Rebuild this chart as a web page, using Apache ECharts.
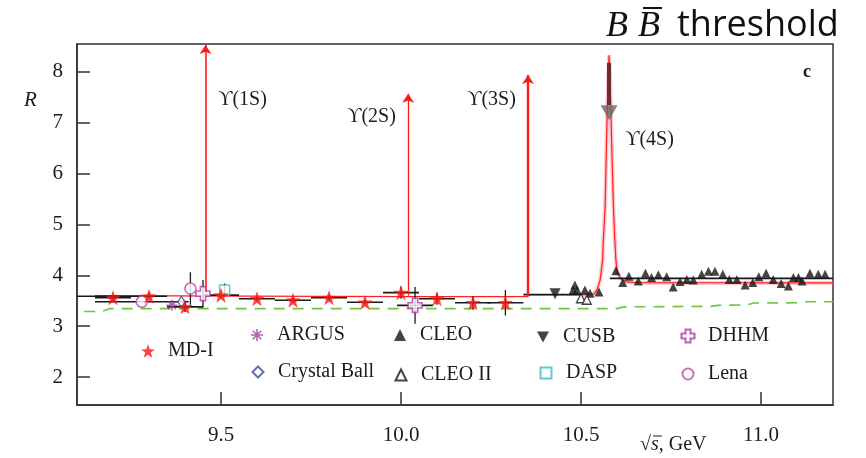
<!DOCTYPE html>
<html>
<head>
<meta charset="utf-8">
<script src="https://cdn.jsdelivr.net/npm/echarts@6/dist/echarts.min.js"></script>
<style>
  html, body { margin: 0; padding: 0; background: #fff; }
  #chart { width: 866px; height: 458px; }
</style>
</head>
<body>
<div id="chart"></div>
<script>
// axis ranges and ticks
var xMin = 9.1, xMax = 11.2, yMin = 1.45, yMax = 8.55;
var xTicks = [9.5, 10.0, 10.5, 11.0];
var yTicks = [2, 3, 4, 5, 6, 7, 8];

// MD-I (stars): energy, R, half bin width, R error
var mdiX = [9.2, 9.3, 9.4, 9.5, 9.6, 9.7, 9.8, 9.9, 10.0, 10.1, 10.2, 10.29];
var mdiR = [3.56, 3.59, 3.38, 3.61, 3.54, 3.51, 3.56, 3.47, 3.66, 3.54, 3.46, 3.46];
var mdiBin = [0.05, 0.05, 0.05, 0.05, 0.05, 0.05, 0.05, 0.05, 0.05, 0.05, 0.05, 0.05];
var mdiErr = [0.06, 0.06, 0.1, 0.06, 0.05, 0.05, 0.05, 0.05, 0.12, 0.12, 0.13, 0.25];

// other experiments
var argusX = [9.364], argusR = [3.41];
var cbX = [9.39], cbR = [3.48];
var cleoX = [10.478, 10.483, 10.489, 10.511, 10.525, 10.55,
  10.597, 10.616, 10.633, 10.659, 10.679, 10.696, 10.715, 10.738, 10.756, 10.775,
  10.794, 10.812, 10.835, 10.854, 10.872, 10.894, 10.912, 10.933, 10.956, 10.977,
  10.994, 11.014, 11.034, 11.056, 11.076, 11.09, 11.104, 11.114, 11.136, 11.159, 11.178];
var cleoR = [3.71, 3.81, 3.71, 3.71, 3.65, 3.67,
  4.09, 3.86, 3.98, 3.89, 4.04, 3.96, 4.01, 3.97, 3.77, 3.88,
  3.92, 3.91, 4.02, 4.08, 4.08, 4.02, 3.92, 3.92, 3.81, 3.86,
  3.97, 4.04, 3.92, 3.84, 3.79, 3.96, 3.96, 3.89, 4.04, 4.02, 4.02];
var cleo2X = [10.50, 10.516], cleo2R = [3.55, 3.52];
var cusbX = [10.428], cusbR = [3.64];
var daspX = [9.51], daspR = [3.71], daspErr = [0.13];
var dhhmX = [9.45, 10.039], dhhmR = [3.64, 3.41], dhhmBin = [0, 0.05], dhhmErr = [0.27, 0.36];
var lenaX = [9.28, 9.415], lenaR = [3.48, 3.74], lenaBin = [0.13, 0], lenaErr = [0, 0.32];

// wide-bin black segments: from, to, R
var binLo = [9.10, 10.34, 10.58];
var binHi = [9.25, 10.50, 11.20];
var binR = [3.59, 3.62, 3.94];

// theory curve (red) and Y(4S) shape
var theoryX = [9.15, 10.0, 10.35, 10.36, 10.50, 10.535, 10.544, 10.553, 10.560, 10.562, 10.567,
  10.571, 10.575, 10.578, 10.581, 10.585, 10.590, 10.594, 10.597, 10.601, 10.613, 10.627, 10.65, 11.2];
var theoryR = [3.60, 3.58, 3.58, 3.62, 3.62, 3.63, 3.71, 3.90, 4.30, 4.69, 5.35,
  6.66, 7.8, 8.33, 7.8, 6.66, 5.35, 4.69, 4.30, 4.04, 3.92, 3.87, 3.855, 3.85];

// narrow resonances: mass, peak drawn
var upsX = [9.457, 10.02, 10.353];
var upsTop = [8.53, 7.57, 7.94];
var upsBase = 3.6;

// BB threshold arrow at Y(4S)
var thrX = 10.578, thrFrom = 8.18, thrTo = 7.35, thrHead = 7.2;

// continuum (green dashed)
var contX = [9.12, 9.17, 9.19, 10.60, 10.62, 10.86, 10.88, 10.96, 10.98, 11.10, 11.12, 11.20];
var contR = [3.29, 3.29, 3.345, 3.345, 3.38, 3.39, 3.41, 3.42, 3.455, 3.46, 3.48, 3.48];

function zip(a, b) { return a.map(function (v, i) { return [v, b[i]]; }); }

var serif = 'Liberation Serif';
var ink = '#1b1b26';
var starPath = 'path://M0,-10 L2.35,-3.24 L9.51,-3.09 L3.8,1.24 L5.88,8.09 L0,4 L-5.88,8.09 L-3.8,1.24 L-9.51,-3.09 L-2.35,-3.24 Z';
var asterPath = 'path://M-0.8,-6 L0.8,-6 L0.8,6 L-0.8,6 Z M-6,-0.8 L6,-0.8 L6,0.8 L-6,0.8 Z M-4.8,-3.7 L-3.7,-4.8 L4.8,3.7 L3.7,4.8 Z M3.7,-4.8 L4.8,-3.7 L-3.7,4.8 L-4.8,3.7 Z';
var crossPath = 'path://M-1.5,-4 L1.5,-4 L1.5,-1.5 L4,-1.5 L4,1.5 L1.5,1.5 L1.5,4 L-1.5,4 L-1.5,1.5 L-4,1.5 L-4,-1.5 L-1.5,-1.5 Z';
var downTri = 'path://M-5,-4 L5,-4 L0,5 Z';

// error bars: [x, y, halfwidth, yerr]
function errorSeries(rows) {
  return {
    type: 'custom', silent: true, z: 3, clip: true,
    encode: { x: 0, y: 1 },
    data: rows,
    renderItem: function (params, api) {
      var x = api.value(0), y = api.value(1), dx = api.value(2), dy = api.value(3);
      var kids = [];
      if (dx > 0) {
        var l = api.coord([x - dx, y]), r = api.coord([x + dx, y]);
        kids.push({ type: 'line', shape: { x1: l[0], y1: l[1], x2: r[0], y2: r[1] }, style: { stroke: '#1a1a1a', lineWidth: 1.6 } });
      }
      if (dy > 0) {
        var t = api.coord([x, y + dy]), b = api.coord([x, y - dy]);
        kids.push({ type: 'line', shape: { x1: t[0], y1: t[1], x2: b[0], y2: b[1] }, style: { stroke: '#1a1a1a', lineWidth: 1.3 } });
      }
      return { type: 'group', children: kids };
    }
  };
}

var errRows = [];
mdiX.forEach(function (x, i) { errRows.push([x, mdiR[i], mdiBin[i], mdiErr[i]]); });
dhhmX.forEach(function (x, i) { errRows.push([x, dhhmR[i], dhhmBin[i], dhhmErr[i]]); });
lenaX.forEach(function (x, i) { errRows.push([x, lenaR[i], lenaBin[i], lenaErr[i]]); });
daspX.forEach(function (x, i) { errRows.push([x, daspR[i], 0, daspErr[i]]); });
binLo.forEach(function (x, i) { errRows.push([(x + binHi[i]) / 2, binR[i], (binHi[i] - x) / 2, 0]); });

// legend: icon centre x, centre y, icon size
var legendPlaces = {
  'MD-I': [148, 351, 14], 'ARGUS': [257, 335, 12], 'Crystal Ball': [257, 372, 11],
  'CLEO': [400, 335, 12], 'CLEO II': [400, 375, 11], 'CUSB': [543, 337, 12],
  'DASP': [545, 373, 11], 'DHHM': [687, 336, 13], 'Lena': [687, 374, 11]
};
var legends = Object.keys(legendPlaces).map(function (n) {
  var p = legendPlaces[n], s = p[2];
  return {
    data: [n], left: p[0] - s / 2, top: p[1] - 10, padding: 0, itemWidth: s, itemHeight: s,
    selectedMode: false,
    textStyle: { fontFamily: serif, fontSize: 20, color: ink, padding: [0, 0, 0, 20 - s / 2 - 5] }
  };
});

var arrowData = upsX.map(function (x, i) {
  return [{ coord: [x, upsBase] }, { coord: [x, upsTop[i]], lineStyle: { width: i === 2 ? 2.4 : (i === 1 ? 1.3 : 1.6) } }];
});

var upsFont = '20px "Liberation Serif", "DejaVu Serif"';

var chart = echarts.init(document.getElementById('chart'));
chart.setOption({
  animation: false,
  backgroundColor: '#fff',
  legend: legends,
  grid: { left: 77, right: 33, top: 44, bottom: 53, show: true, borderColor: '#333', borderWidth: 1.5 },
  xAxis: {
    type: 'value', min: xMin, max: xMax, splitLine: { show: false },
    axisLine: { show: true, onZero: false, lineStyle: { color: '#333', width: 1.5 } },
    axisTick: { show: true, inside: true, length: 13, customValues: xTicks, lineStyle: { color: '#333', width: 1.5 } },
    axisLabel: { customValues: xTicks, formatter: function (v) { return v.toFixed(1); }, fontFamily: serif, fontSize: 21, color: ink, margin: 20 }
  },
  yAxis: {
    type: 'value', min: yMin, max: yMax, splitLine: { show: false },
    axisLine: { show: true, onZero: false, lineStyle: { color: '#333', width: 1.5 } },
    axisTick: { show: true, inside: true, length: 13, customValues: yTicks, lineStyle: { color: '#333', width: 1.5 } },
    axisLabel: { customValues: yTicks, formatter: function (v) { return String(v); }, fontFamily: serif, fontSize: 21, color: ink, margin: 14 }
  },
  series: [
    { type: 'line', data: zip(contX, contR), showSymbol: false, silent: true, z: 1,
      lineStyle: { color: '#6cc644', width: 1.6, type: [11, 8] } },
    { type: 'line', data: zip(theoryX.slice(4), theoryR.slice(4)), showSymbol: false, silent: true, z: 1,
      lineStyle: { color: 'rgba(255,130,140,0.45)', width: 4 } },
    { type: 'line', data: zip(theoryX, theoryR), showSymbol: false, silent: true, z: 2,
      lineStyle: { color: '#ff2020', width: 1.2 },
      markLine: { silent: true, symbol: ['none', 'arrow'], symbolSize: 9, label: { show: false },
        lineStyle: { color: '#ff1a1a', type: 'solid' }, data: arrowData } },
    errorSeries(errRows),
    { name: 'MD-I', type: 'scatter', data: zip(mdiX, mdiR), symbol: starPath, symbolSize: 15, z: 6,
      itemStyle: { color: '#ff1414' } },
    { name: 'ARGUS', type: 'scatter', data: zip(argusX, argusR), symbol: asterPath, symbolSize: 11, z: 5,
      itemStyle: { color: '#a23c9c' } },
    { name: 'Crystal Ball', type: 'scatter', data: zip(cbX, cbR), symbol: 'diamond', symbolSize: [7, 11], z: 5,
      itemStyle: { color: '#fff', borderColor: '#3b48a8', borderWidth: 1.4 } },
    { name: 'CLEO', type: 'scatter', data: zip(cleoX, cleoR), symbol: 'triangle', symbolSize: 9, z: 5,
      itemStyle: { color: '#151515' } },
    { name: 'CLEO II', type: 'scatter', data: zip(cleo2X, cleo2R), symbol: 'triangle', symbolSize: 9, z: 5,
      itemStyle: { color: '#fff', borderColor: '#151515', borderWidth: 1.3 } },
    { name: 'CUSB', type: 'scatter', data: zip(cusbX, cusbR), symbol: downTri, symbolSize: 11, z: 5,
      itemStyle: { color: '#151515' } },
    { name: 'DASP', type: 'scatter', data: zip(daspX, daspR), symbol: 'rect', symbolSize: 10, z: 5,
      itemStyle: { color: '#fff', borderColor: '#3fb8c8', borderWidth: 1.5 } },
    { name: 'DHHM', type: 'scatter', data: zip(dhhmX, dhhmR), symbol: crossPath, symbolSize: 14, z: 5,
      itemStyle: { color: '#fff', borderColor: '#b03aa8', borderWidth: 1.6 } },
    { name: 'Lena', type: 'scatter', data: zip(lenaX, lenaR), symbol: 'circle', symbolSize: 11, z: 5,
      itemStyle: { color: '#fff', borderColor: '#c04aa6', borderWidth: 1.6 } },
    { type: 'scatter', data: [[thrX, thrHead]], symbol: downTri, symbolSize: [17, 15], z: 7, silent: true,
      itemStyle: { color: '#686868' },
      markLine: { silent: true, symbol: 'none', label: { show: false },
        lineStyle: { color: '#6e2c2c', width: 4, type: 'solid' },
        data: [[{ coord: [thrX, thrFrom] }, { coord: [thrX, thrTo] }]] } }
  ],
  graphic: [
    { type: 'text', x: 24, y: 100, style: { text: 'R', font: 'italic 21px "Liberation Serif"', fill: ink, textVerticalAlign: 'middle' } },
    { type: 'text', x: 218, y: 100, style: { text: '\u03D2(1S)', font: upsFont, fill: ink, textVerticalAlign: 'middle' } },
    { type: 'text', x: 347, y: 117, style: { text: '\u03D2(2S)', font: upsFont, fill: ink, textVerticalAlign: 'middle' } },
    { type: 'text', x: 467, y: 100, style: { text: '\u03D2(3S)', font: upsFont, fill: ink, textVerticalAlign: 'middle' } },
    { type: 'text', x: 625, y: 140, style: { text: '\u03D2(4S)', font: upsFont, fill: ink, textVerticalAlign: 'middle' } },
    { type: 'text', x: 803, y: 72, style: { text: 'c', font: 'bold 18px "Liberation Serif"', fill: ink, textVerticalAlign: 'middle' } },
    { type: 'text', x: 640, y: 445, style: { text: '{n|\u221A}{i|s}{n|, GeV}', fill: ink, textVerticalAlign: 'middle',
      rich: { n: { font: '20px "Liberation Serif"', fill: ink }, i: { font: 'italic 20px "Liberation Serif"', fill: ink } } } },
    { type: 'line', shape: { x1: 653, y1: 436, x2: 662, y2: 436 }, style: { stroke: ink, lineWidth: 1 } },
    { type: 'text', x: 606, y: 27, style: { text: 'B', font: 'italic 36px "Liberation Serif"', fill: '#111', textVerticalAlign: 'middle' } },
    { type: 'text', x: 638, y: 27, style: { text: 'B', font: 'italic 36px "Liberation Serif"', fill: '#111', textVerticalAlign: 'middle' } },
    { type: 'line', shape: { x1: 643, y1: 8, x2: 662, y2: 8 }, style: { stroke: '#111', lineWidth: 2 } },
    { type: 'text', x: 677, y: 26, style: { text: 'threshold', font: '36px "Open Sans"', fill: '#111', textVerticalAlign: 'middle' } }
  ]
});
</script>
</body>
</html>
